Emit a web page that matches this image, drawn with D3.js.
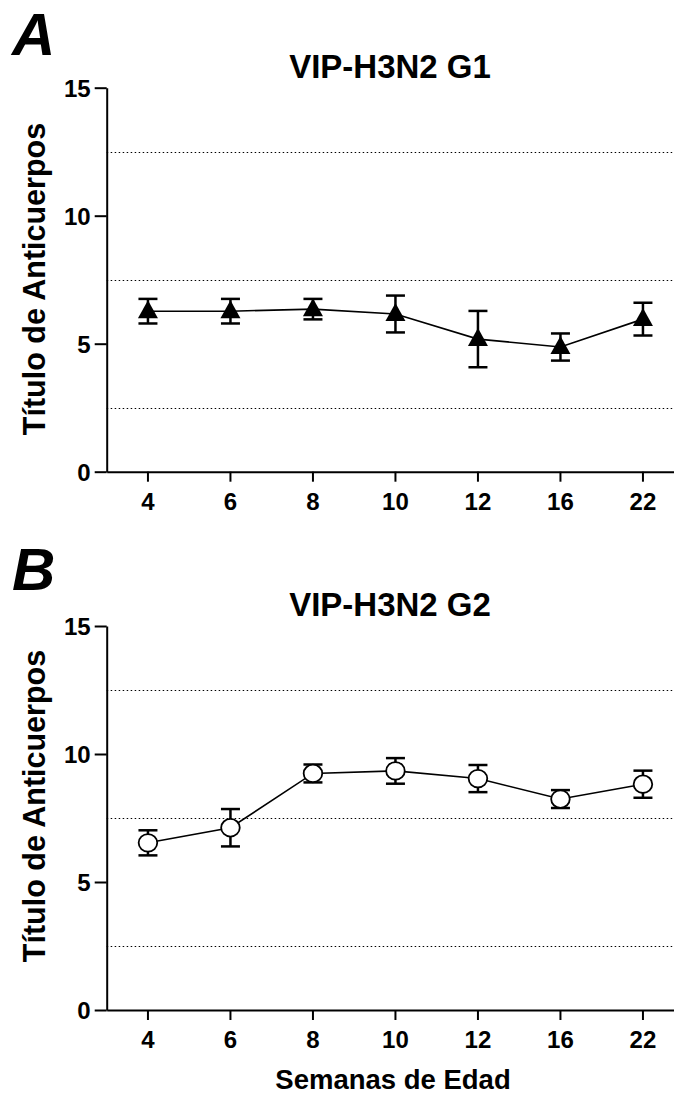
<!DOCTYPE html>
<html>
<head>
<meta charset="utf-8">
<script src="https://cdn.jsdelivr.net/npm/d3@7"></script>
<style>
  body { margin: 0; background: #fff; }
  svg { display: block; font-family: "Liberation Sans", Arial, sans-serif; }
</style>
</head>
<body>
<svg width="674" height="1094"></svg>
<script>
const weeks = ['4', '6', '8', '10', '12', '16', '22'];
const yTicks = [0, 5, 10, 15];
const refLines = [2.5, 7.5, 12.5];

const g1Mean = [6.27, 6.27, 6.35, 6.16, 5.18, 4.87, 5.96];
const g1Err = [0.48, 0.48, 0.40, 0.72, 1.10, 0.53, 0.64];

const g2Mean = [6.53, 7.12, 9.24, 9.34, 9.04, 8.24, 8.82];
const g2Err = [0.49, 0.73, 0.35, 0.50, 0.53, 0.35, 0.53];

const svg = d3.select('svg');

const left = 106.7;
const xScale = d3.scaleBand()
  .domain(weeks)
  .range([left, left + 7 * 82.5]);

function panel(opts) {
  const yScale = d3.scaleLinear()
    .domain([0, 15])
    .range([opts.bottom, opts.bottom - 384]);

  const g = svg.append('g');

  // dotted reference lines, snapped to the pixel grid
  g.selectAll('.ref')
    .data(refLines)
    .enter()
    .append('line')
    .attr('x1', left)
    .attr('x2', 674)
    .attr('y1', d => Math.round(yScale(d)) + 0.5)
    .attr('y2', d => Math.round(yScale(d)) + 0.5)
    .attr('stroke', '#000')
    .attr('stroke-width', 1)
    .attr('stroke-dasharray', '1.5,2.5');

  // axes
  const yAxis = g.append('g')
    .attr('transform', `translate(${left}, 0)`)
    .call(d3.axisLeft(yScale).tickValues(yTicks).tickSize(12).tickSizeOuter(0).tickPadding(4));

  const xAxis = g.append('g')
    .attr('transform', `translate(0, ${opts.bottom})`)
    .call(d3.axisBottom(xScale).tickSize(10).tickSizeOuter(0).tickPadding(11));

  [yAxis, xAxis].forEach(a => {
    a.select('.domain').attr('stroke-width', 2);
    a.selectAll('.tick line').attr('stroke-width', 2);
    a.selectAll('.tick text')
      .style('font-size', '24px')
      .style('font-weight', 'bold')
      .style('font-family', '"Liberation Sans", Arial, sans-serif')
      .attr('fill', '#000');
  });
  yAxis.selectAll('.tick text').attr('dy', '0.36em');

  const cx = (d, i) => xScale(weeks[i]) + xScale.bandwidth() / 2;
  const pts = opts.mean.map((m, i) => ({ x: cx(m, i), m: m, e: opts.err[i] }));

  // error bars
  const eb = g.selectAll('.eb')
    .data(pts)
    .enter()
    .append('g')
    .attr('stroke', '#000')
    .attr('stroke-width', 2.5);
  eb.append('line')
    .attr('x1', d => d.x).attr('x2', d => d.x)
    .attr('y1', d => yScale(d.m - d.e)).attr('y2', d => yScale(d.m + d.e));
  eb.append('line')
    .attr('x1', d => d.x - 9.5).attr('x2', d => d.x + 9.5)
    .attr('y1', d => yScale(d.m + d.e)).attr('y2', d => yScale(d.m + d.e));
  eb.append('line')
    .attr('x1', d => d.x - 9.5).attr('x2', d => d.x + 9.5)
    .attr('y1', d => yScale(d.m - d.e)).attr('y2', d => yScale(d.m - d.e));

  // connecting line
  g.append('path')
    .datum(pts)
    .attr('fill', 'none')
    .attr('stroke', '#000')
    .attr('stroke-width', 1.6)
    .attr('d', d3.line().x(d => d.x).y(d => yScale(d.m)));

  // markers
  if (opts.marker === 'triangle') {
    g.selectAll('.mk')
      .data(pts)
      .enter()
      .append('path')
      .attr('d', d => {
        const y = yScale(d.m);
        return `M${d.x},${y - 11}L${d.x + 10},${y + 7}L${d.x - 10},${y + 7}Z`;
      })
      .attr('fill', '#000');
  } else {
    g.selectAll('.mk')
      .data(pts)
      .enter()
      .append('ellipse')
      .attr('cx', d => d.x)
      .attr('cy', d => yScale(d.m))
      .attr('rx', 9.3)
      .attr('ry', 8.8)
      .attr('fill', '#fff')
      .attr('stroke', '#000')
      .attr('stroke-width', 1.8);
  }

  // panel letter
  svg.append('text')
    .attr('x', 12)
    .attr('y', opts.letterY)
    .attr('font-size', 60)
    .attr('font-weight', 'bold')
    .attr('font-style', 'italic')
    .text(opts.letter);

  // title
  svg.append('text')
    .attr('x', 390)
    .attr('y', opts.bottom - 394)
    .attr('text-anchor', 'middle')
    .attr('font-size', 33)
    .attr('font-weight', 'bold')
    .text(opts.title);

  // y label
  svg.append('text')
    .attr('transform', `translate(45, ${opts.labelY}) rotate(-90)`)
    .attr('text-anchor', 'middle')
    .attr('font-size', 30.5)
    .attr('font-weight', 'bold')
    .text('Título de Anticuerpos');
}

panel({ bottom: 471.7, mean: g1Mean, err: g1Err, marker: 'triangle', letter: 'A', letterY: 55, title: 'VIP-H3N2 G1', labelY: 279 });
panel({ bottom: 1010, mean: g2Mean, err: g2Err, marker: 'circle', letter: 'B', letterY: 590, title: 'VIP-H3N2 G2', labelY: 806 });

svg.append('text')
  .attr('x', 393)
  .attr('y', 1089)
  .attr('text-anchor', 'middle')
  .attr('font-size', 27.5)
  .attr('font-weight', 'bold')
  .text('Semanas de Edad');
</script>
</body>
</html>
